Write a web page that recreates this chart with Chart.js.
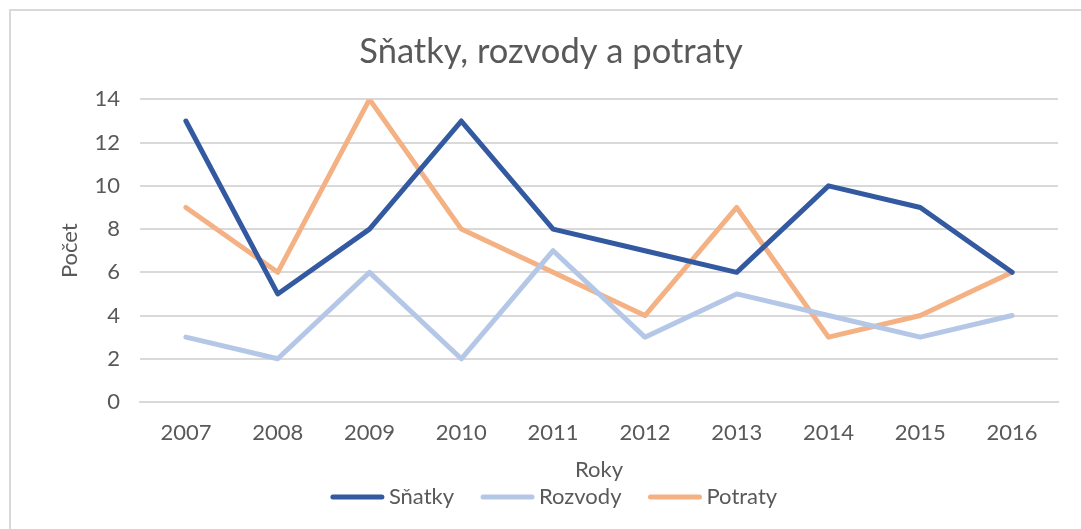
<!DOCTYPE html>
<html>
<head>
<meta charset="utf-8">
<script src="https://cdn.jsdelivr.net/npm/chart.js@4.4.1/dist/chart.umd.min.js"></script>
<style>
  body { margin: 0; background: #fff; overflow: hidden; }
  #frame { position: absolute; left: 9px; top: 9px; width: 1200px; height: 600px;
           border-left: 2px solid #d9d9d9; border-top: 2px solid #d9d9d9; }
  #wrap { position: absolute; left: 9px; top: 9px; width: 1090px; height: 520px; }
</style>
</head>
<body>
<div id="frame"></div>
<div id="wrap"><canvas id="chart"></canvas></div>
<script>
// 데이터
const roky = ['2007', '2008', '2009', '2010', '2011', '2012', '2013', '2014', '2015', '2016'];
const snatky = [13, 5, 8, 13, 8, 7, 6, 10, 9, 6];
const rozvody = [3, 2, 6, 2, 7, 3, 5, 4, 3, 4];
const potraty = [9, 6, 14, 8, 6, 4, 9, 3, 4, 6];

const textColor = '#595959';
const fontFam = 'Lato, "Open Sans", sans-serif';

function serie(label, data, color) {
  return {
    label: label,
    data: data,
    borderColor: color,
    backgroundColor: color,
    borderWidth: 5,
    borderCapStyle: 'round',
    borderJoinStyle: 'round',
    pointRadius: 0,
    pointHoverRadius: 0,
    tension: 0
  };
}

// 범례 직접 그리기 (선 + 글자)
const bottomLegend = {
  id: 'bottomLegend',
  afterDraw(chart) {
    const c = chart.ctx;
    const lineLen = 53, gapText = 5, gapItem = 27;
    c.save();
    c.font = '22px ' + fontFam;
    const items = chart.data.datasets.map(ds => ({
      label: ds.label, color: ds.borderColor, w: c.measureText(ds.label).width
    }));
    let total = 0;
    items.forEach((it, i) => { total += lineLen + gapText + it.w + (i ? gapItem : 0); });
    let x = chart.width / 2 - total / 2;
    const y = chart.height - 32;
    c.textBaseline = 'middle';
    c.textAlign = 'left';
    items.forEach(it => {
      c.strokeStyle = it.color;
      c.lineWidth = 5;
      c.lineCap = 'round';
      c.beginPath();
      c.moveTo(x + 2, y);
      c.lineTo(x + lineLen - 2, y);
      c.stroke();
      c.fillStyle = textColor;
      c.fillText(it.label, x + lineLen + gapText, y);
      x += lineLen + gapText + it.w + gapItem;
    });
    c.restore();
  }
};

const ctx = document.getElementById('chart').getContext('2d');
new Chart(ctx, {
  type: 'line',
  data: {
    labels: roky,
    datasets: [
      serie('Sňatky', snatky, '#335aa1'),
      serie('Rozvody', rozvody, '#b4c7e7'),
      serie('Potraty', potraty, '#f4b183')
    ]
  },
  plugins: [bottomLegend],
  options: {
    responsive: true,
    maintainAspectRatio: false,
    animation: false,
    layout: { padding: { left: 35, right: 41, top: 22, bottom: 46 } },
    plugins: {
      title: {
        display: true,
        text: 'Sňatky, rozvody a potraty',
        color: textColor,
        font: { family: fontFam, size: 34.5, weight: 'normal' },
        padding: { top: 0, bottom: 27 }
      },
      legend: { display: false },
      tooltip: { enabled: false }
    },
    scales: {
      x: {
        offset: true,
        grid: { display: false, drawTicks: false },
        border: { display: true, color: '#d9d9d9', width: 2 },
        ticks: { color: textColor, font: { family: fontFam, size: 22 }, padding: 18, maxRotation: 0 },
        title: { display: true, text: 'Roky', color: textColor,
                 font: { family: fontFam, size: 22 }, padding: { top: 10, bottom: 0 } },
        afterFit: (scale) => { scale.height = 81; }
      },
      y: {
        min: 0,
        max: 14,
        ticks: { stepSize: 2, color: textColor, font: { family: fontFam, size: 22 }, padding: 20 },
        grid: { color: '#d9d9d9', lineWidth: 2, drawTicks: false },
        border: { display: false },
        title: { display: true, text: 'Počet', color: textColor,
                 font: { family: fontFam, size: 22 }, padding: { top: 13, bottom: 0 } },
        afterFit: (scale) => { scale.width = 96; }
      }
    }
  }
});
</script>
</body>
</html>
